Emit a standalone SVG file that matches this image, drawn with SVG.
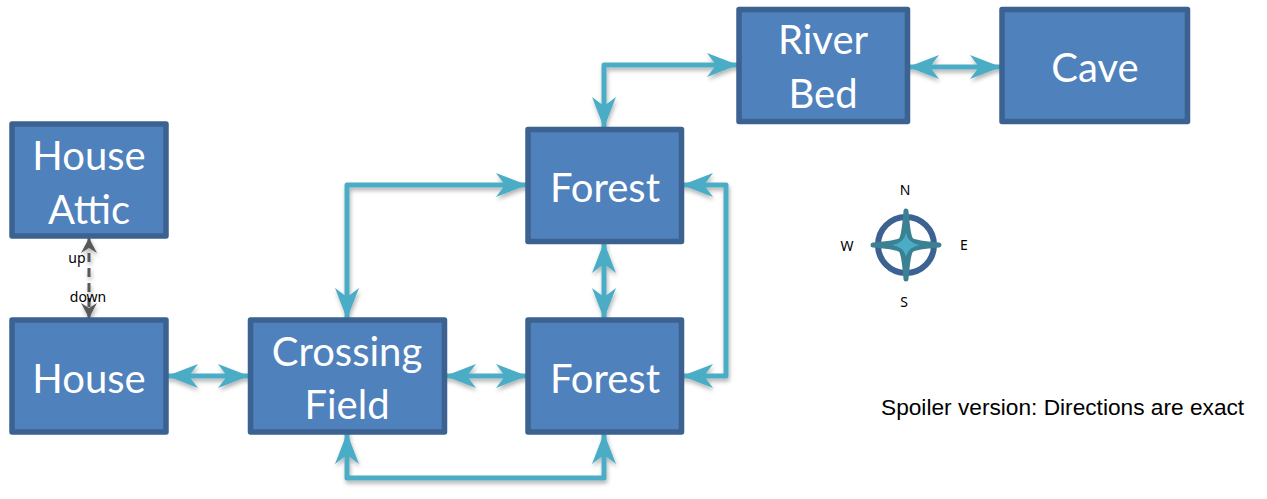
<svg xmlns="http://www.w3.org/2000/svg" width="1267" height="499" viewBox="0 0 1267 499">
<style>
.box{fill:#4f81bd;stroke:#3b6290;stroke-width:5.5;stroke-linejoin:round}
.t{font-family:"Lato","Noto Sans",sans-serif;font-size:40px;fill:#fff;text-anchor:middle}
.c{fill:none;stroke:#4bacc6;stroke-width:5;stroke-linejoin:round;stroke-linecap:round;marker-start:url(#h);marker-end:url(#h)}
.d{fill:none;stroke:#595959;stroke-width:3;stroke-dasharray:9 6;marker-start:url(#g);marker-end:url(#g)}
.s{font-family:"Noto Sans","Open Sans",sans-serif;font-size:14px;fill:#000;text-anchor:middle}
</style>
<defs>
<marker id="h" markerUnits="userSpaceOnUse" viewBox="0 0 31 24" refX="30" refY="12" markerWidth="31" markerHeight="24" orient="auto-start-reverse"><path d="M0 0L31 12L0 24L9 12Z" fill="#4bacc6"/></marker>
<marker id="g" markerUnits="userSpaceOnUse" viewBox="0 0 15 16" refX="15" refY="8" markerWidth="15" markerHeight="16" orient="auto-start-reverse"><path d="M0 0L15 8L0 16L5 8Z" fill="#595959"/></marker>
<filter id="sh" x="-10%" y="-10%" width="120%" height="120%"><feDropShadow dx="1" dy="3" stdDeviation="2" flood-color="#000" flood-opacity="0.3"/></filter>
</defs>
<g id="connectors" filter="url(#sh)">
<path class="c" d="M737 65H604V127"/>
<path class="c" d="M909 67H1000"/>
<path class="c" d="M526 185H347V318"/>
<path class="c" d="M683 185H726V376H683"/>
<path class="c" d="M604 243V318"/>
<path class="c" d="M168 376H248"/>
<path class="c" d="M446 376H526"/>
<path class="c" d="M347 434V478H604V434"/>
<path class="d" d="M89 238V318"/>
</g>
<g id="house-attic"><rect class="box" x="12" y="124" width="154" height="112"/><text class="t" x="89" y="170">House</text><text class="t" x="89" y="224">Attic</text></g>
<g id="house"><rect class="box" x="12" y="320" width="154" height="112"/><text class="t" x="89" y="393">House</text></g>
<g id="crossing-field"><rect class="box" x="250.500" y="320" width="194" height="112"/><text class="t" x="347" y="366">Crossing</text><text class="t" x="347" y="419">Field</text></g>
<g id="forest-south"><rect class="box" x="528" y="320" width="153.500" height="112"/><text class="t" x="605" y="393">Forest</text></g>
<g id="forest-north"><rect class="box" x="528" y="129.500" width="153.500" height="112"/><text class="t" x="605" y="202">Forest</text></g>
<g id="river-bed"><rect class="box" x="739" y="9.500" width="168.500" height="112"/><text class="t" x="823" y="54">River</text><text class="t" x="823" y="108">Bed</text></g>
<g id="cave"><rect class="box" x="1002" y="9.500" width="185.500" height="112"/><text class="t" x="1095" y="82">Cave</text></g>
<g id="compass">
<circle cx="906" cy="245" r="28" fill="none" stroke="#3b6290" stroke-width="6"/>
<path d="M906 211Q908 236 911 240Q915 243 939 245Q915 247 911 250Q908 254 906 279Q904 254 901 250Q897 247 873 245Q897 243 901 240Q904 236 906 211Z" fill="#3b8093" stroke="#3b8093" stroke-width="5" stroke-linejoin="round"/>
<path d="M906 233Q908 243 920 245Q908 247 906 257Q904 247 892 245Q904 243 906 233Z" fill="#4bacc6"/>
</g>
<g id="labels">
<text class="s" x="77" y="263">up</text>
<text class="s" x="88" y="302">down</text>
<text class="s" x="905" y="195">N</text>
<text class="s" x="847" y="251">W</text>
<text class="s" x="964" y="250">E</text>
<text class="s" x="904" y="307">S</text>
<text x="881" y="415" font-family="Liberation Sans, Arial, sans-serif" font-size="22.7" fill="#000">Spoiler version: Directions are exact</text>
</g>
</svg>
